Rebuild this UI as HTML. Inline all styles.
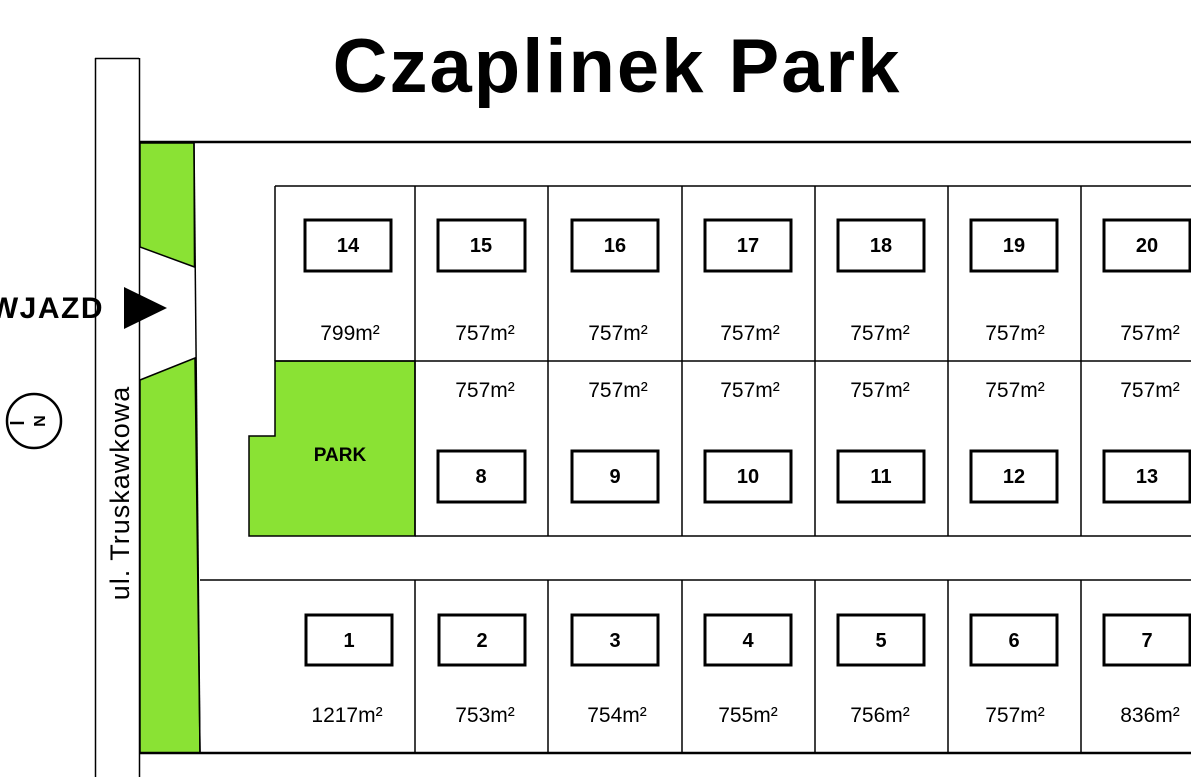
<!DOCTYPE html>
<html><head><meta charset="utf-8"><style>
html,body{margin:0;padding:0;background:#fff;}
svg{display:block;}
text{font-family:"Liberation Sans",sans-serif;}
</style></head><body>
<svg width="1191" height="777" viewBox="0 0 1191 777" xmlns="http://www.w3.org/2000/svg">
<rect width="1191" height="777" fill="#fff"/>
<text x="617" y="92" text-anchor="middle" font-size="76" font-weight="bold" letter-spacing="2" fill="#000">Czaplinek Park</text>
<!-- road -->
<line x1="95.5" y1="58" x2="95.5" y2="777" stroke="#000" stroke-width="1.5"/>
<line x1="95" y1="58.5" x2="139" y2="58.5" stroke="#000" stroke-width="1.5"/>
<line x1="139.5" y1="58" x2="139.5" y2="777" stroke="#000" stroke-width="1.5"/>
<!-- green strip -->
<polygon points="140,143 194,143 194.5,267 140,247" fill="#8ae234" stroke="#000" stroke-width="1.5"/>
<polygon points="140,380 195,358 200,753 140,753" fill="#8ae234" stroke="#000" stroke-width="1.5"/>
<line x1="194" y1="143" x2="200" y2="753" stroke="#000" stroke-width="1.5"/>
<line x1="139" y1="142" x2="1191" y2="142" stroke="#000" stroke-width="2.5"/>
<line x1="139" y1="753" x2="1191" y2="753" stroke="#000" stroke-width="2.5"/>
<!-- entrance -->
<text x="104" y="318" text-anchor="end" font-size="30" font-weight="bold" letter-spacing="1.5" fill="#000">WJAZD</text>
<polygon points="124,287 167,308 124,329" fill="#000"/>
<!-- north -->
<circle cx="34" cy="421" r="27" fill="none" stroke="#000" stroke-width="2.5"/>
<line x1="10" y1="423" x2="24" y2="423" stroke="#000" stroke-width="2.5"/>
<text x="38" y="421" font-size="16" font-weight="bold" text-anchor="middle" transform="rotate(90 38 421)" dominant-baseline="middle">N</text>
<text x="0" y="0" font-size="27" fill="#000" transform="translate(129 493) rotate(-90)" text-anchor="middle" letter-spacing="1">ul. Truskawkowa</text>
<!-- upper block -->
<polygon points="275,361 415,361 415,536 249,536 249,436 275,436" fill="#8ae234" stroke="#000" stroke-width="1.5"/>
<text x="340" y="461" text-anchor="middle" font-size="19" font-weight="bold">PARK</text>
<g stroke="#000" stroke-width="1.5" fill="none">
<line x1="275" y1="186" x2="1191" y2="186"/>
<line x1="275" y1="186" x2="275" y2="361"/>
<line x1="275" y1="361" x2="1191" y2="361"/>
<line x1="415" y1="536" x2="1191" y2="536"/>
<line x1="200" y1="580" x2="1191" y2="580"/>
<line x1="415" y1="186" x2="415" y2="536"/>
<line x1="548" y1="186" x2="548" y2="536"/>
<line x1="682" y1="186" x2="682" y2="536"/>
<line x1="815" y1="186" x2="815" y2="536"/>
<line x1="948" y1="186" x2="948" y2="536"/>
<line x1="1081" y1="186" x2="1081" y2="536"/>
<line x1="415" y1="580" x2="415" y2="753"/>
<line x1="548" y1="580" x2="548" y2="753"/>
<line x1="682" y1="580" x2="682" y2="753"/>
<line x1="815" y1="580" x2="815" y2="753"/>
<line x1="948" y1="580" x2="948" y2="753"/>
<line x1="1081" y1="580" x2="1081" y2="753"/>
</g>
<g stroke="#000" stroke-width="3" fill="#fff">
<rect x="305" y="220" width="86" height="51"/>
<rect x="438" y="220" width="87" height="51"/>
<rect x="572" y="220" width="86" height="51"/>
<rect x="705" y="220" width="86" height="51"/>
<rect x="838" y="220" width="86" height="51"/>
<rect x="971" y="220" width="86" height="51"/>
<rect x="1104" y="220" width="86" height="51"/>
<rect x="438" y="451" width="87" height="51"/>
<rect x="572" y="451" width="86" height="51"/>
<rect x="705" y="451" width="86" height="51"/>
<rect x="838" y="451" width="86" height="51"/>
<rect x="971" y="451" width="86" height="51"/>
<rect x="1104" y="451" width="86" height="51"/>
<rect x="306" y="615" width="86" height="50"/>
<rect x="439" y="615" width="86" height="50"/>
<rect x="572" y="615" width="86" height="50"/>
<rect x="705" y="615" width="86" height="50"/>
<rect x="838" y="615" width="86" height="50"/>
<rect x="971" y="615" width="86" height="50"/>
<rect x="1104" y="615" width="86" height="50"/>
</g>
<g font-size="20" font-weight="bold" text-anchor="middle">
<text x="348" y="252">14</text><text x="481" y="252">15</text><text x="615" y="252">16</text><text x="748" y="252">17</text><text x="881" y="252">18</text><text x="1014" y="252">19</text><text x="1147" y="252">20</text>
<text x="481" y="483">8</text><text x="615" y="483">9</text><text x="748" y="483">10</text><text x="881" y="483">11</text><text x="1014" y="483">12</text><text x="1147" y="483">13</text>
<text x="349" y="647">1</text><text x="482" y="647">2</text><text x="615" y="647">3</text><text x="748" y="647">4</text><text x="881" y="647">5</text><text x="1014" y="647">6</text><text x="1147" y="647">7</text>
</g>
<g font-size="21" text-anchor="middle">
<text x="350" y="340">799m²</text><text x="485" y="340">757m²</text><text x="618" y="340">757m²</text><text x="750" y="340">757m²</text><text x="880" y="340">757m²</text><text x="1015" y="340">757m²</text><text x="1150" y="340">757m²</text>
<text x="485" y="397">757m²</text><text x="618" y="397">757m²</text><text x="750" y="397">757m²</text><text x="880" y="397">757m²</text><text x="1015" y="397">757m²</text><text x="1150" y="397">757m²</text>
<text x="347" y="722">1217m²</text><text x="485" y="722">753m²</text><text x="617" y="722">754m²</text><text x="748" y="722">755m²</text><text x="880" y="722">756m²</text><text x="1015" y="722">757m²</text><text x="1150" y="722">836m²</text>
</g>
</svg>
</body></html>
